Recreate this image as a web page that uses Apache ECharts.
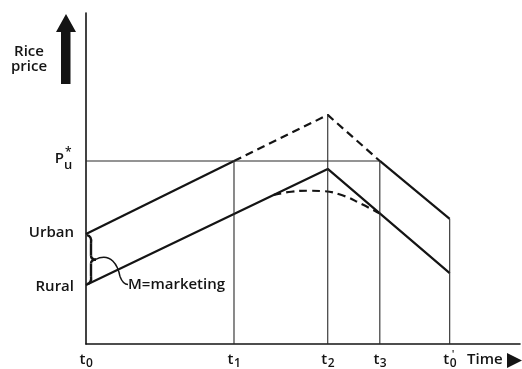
<!DOCTYPE html>
<html><head><meta charset="utf-8">
<script src="https://cdn.jsdelivr.net/npm/echarts@6/dist/echarts.min.js"></script>
<style>html,body{margin:0;padding:0;background:#fff}#c{width:522px;height:369px}</style>
</head><body><div id="c"></div>
<script>
// Time points (arbitrary units) and their tick labels
const tickLabels = ['t0', 't1', 't2', 't3', "t0'"];
const tickMain = ['t', 't', 't', 't', 't'];
const tickSub = ['0', '1', '2', '3', '0'];
const tickTimes = [0, 3.41, 5.57, 6.77, 8.38];
// Urban price path at t0, t1, t2, t3, t0'
const urbanPrices = [3.32, 5.53, 6.92, 5.53, 3.78];
// Rural price path at t0, t2, t0'
const ruralTimes = [0, 5.57, 8.38];
const ruralPrices = [1.78, 5.29, 2.14];
// Alternative (dashed) rural curve
const curveTimes = [4.32, 4.73, 5.13, 5.43, 5.89, 6.36, 6.77];
const curvePrices = [4.50, 4.60, 4.63, 4.62, 4.50, 4.22, 3.94];
const pUStar = 5.53;

const ink = '#141414';
const font = '"Open Sans", "DejaVu Sans", sans-serif';
const pair = (xs, ys) => xs.map((x, i) => [x, ys[i]]);

const chart = echarts.init(document.getElementById('c'));
const lineS = (data, opts) => Object.assign({
  type: 'line', data, symbol: 'none', silent: true, animation: false,
  lineStyle: { color: ink, width: 2.2 }
}, opts || {});
const thin = { lineStyle: { color: '#2a2a2a', width: 1.1 } };

const series = [
  lineS([[tickTimes[0], urbanPrices[0]], [tickTimes[1], urbanPrices[1]]]),
  lineS([[tickTimes[1], urbanPrices[1]], [tickTimes[2], urbanPrices[2]], [tickTimes[3], urbanPrices[3]]],
    { lineStyle: { color: ink, width: 2.2, type: [8, 5] } }),
  lineS([[tickTimes[3], urbanPrices[3]], [tickTimes[4], urbanPrices[4]]]),
  lineS(pair(ruralTimes, ruralPrices)),
  lineS(pair(curveTimes, curvePrices), { smooth: true, lineStyle: { color: ink, width: 2.2, type: [8, 5] } }),
  lineS([[0, pUStar], [tickTimes[3], pUStar]], thin),
  lineS([[tickTimes[1], 0], [tickTimes[1], urbanPrices[1]]], thin),
  lineS([[tickTimes[2], 0], [tickTimes[2], urbanPrices[2]]], thin),
  lineS([[tickTimes[3], 0], [tickTimes[3], urbanPrices[3]]], thin),
  lineS([[tickTimes[4], 0], [tickTimes[4], urbanPrices[4]]], thin)
];

chart.setOption({
  animation: false,
  grid: { left: 86, right: 2, top: 13, bottom: 25 },
  xAxis: { type: 'value', min: 0, max: 10, axisLine: { lineStyle: { color: ink, width: 1.6 } },
    axisTick: { show: false }, axisLabel: { show: false }, splitLine: { show: false } },
  yAxis: { type: 'value', min: 0, max: 10, axisLine: { show: true, lineStyle: { color: ink, width: 1.6 } },
    axisTick: { show: false }, axisLabel: { show: false }, splitLine: { show: false } },
  series
});

const P = (x, y) => chart.convertToPixel({ gridIndex: 0 }, [x, y]);
const txt = (x, y, text, size, align, extra) => ({
  type: 'text', x, y, silent: true,
  style: Object.assign({ text, fill: ink, font: `600 ${size}px ${font}`, align: align || 'left', verticalAlign: 'middle' }, extra || {})
});
const curve = (x1, y1, cx, cy, x2, y2, w, cx2, cy2) => {
  const shape = { x1, y1, x2, y2, cpx1: cx, cpy1: cy };
  if (cx2 !== undefined) { shape.cpx2 = cx2; shape.cpy2 = cy2; }
  return { type: 'bezierCurve', silent: true, shape, style: { stroke: ink, lineWidth: w, fill: null } };
};
const seg = (x1, y1, x2, y2, w) => ({ type: 'line', silent: true, shape: { x1, y1, x2, y2 }, style: { stroke: ink, lineWidth: w } });

const g = [];
// tick labels
tickTimes.forEach((t, i) => {
  const p = P(t, 0);
  g.push(txt(p[0] - 0.5, 360, tickMain[i], 15, 'right'));
  g.push(txt(p[0] + 0, 364, tickSub[i], 12, 'left'));
  if (tickLabels[i].endsWith("'")) g.push(txt(p[0] + 2, 355, "'", 11, 'left'));
});
// Time label + arrow
g.push(txt(467, 360, 'Time', 15, 'left'));
g.push({ type: 'polygon', silent: true, shape: { points: [[507, 353], [522, 360.5], [507, 368]] }, style: { fill: ink } });
// Rice price label + arrow
g.push(txt(29, 52, 'Rice', 15, 'center'));
g.push(txt(29, 67, 'price', 15, 'center'));
g.push({ type: 'polygon', silent: true,
  shape: { points: [[66, 14], [76, 32], [70.5, 32], [70.5, 84], [61, 84], [61, 32], [56, 32]] },
  style: { fill: ink } });
// Urban / Rural / P_u*
const pu = P(0, urbanPrices[0]), pr = P(0, ruralPrices[0]), ps = P(0, pUStar);
g.push(txt(pu[0] - 12, pu[1] - 1, 'Urban', 15, 'right'));
g.push(txt(pr[0] - 12, pr[1] + 2, 'Rural', 15, 'right'));
g.push(txt(ps[0] - 22, ps[1] - 2, 'P', 15, 'right'));
g.push(txt(ps[0] - 22, ps[1] + 4, 'u', 13, 'left'));
g.push(txt(ps[0] - 21, ps[1] - 8, '*', 12, 'left'));
// brace between urban and rural start
const x0 = pu[0] + 1, yT = pu[1] + 1, yB = pr[1] - 1, yM = (yT + yB) / 2;
g.push(curve(x0, yT, x0 + 5, yT + 1, x0 + 4, yT + 8, 2.4));
g.push(seg(x0 + 4, yT + 8, x0 + 4, yM - 4, 2.4));
g.push(curve(x0 + 4, yM - 4, x0 + 4, yM, x0 + 9, yM, 2.4));
g.push(curve(x0 + 9, yM, x0 + 4, yM, x0 + 4, yM + 4, 2.4));
g.push(seg(x0 + 4, yM + 4, x0 + 4, yB - 8, 2.4));
g.push(curve(x0 + 4, yB - 8, x0 + 5, yB - 1, x0, yB, 2.4));
// leader to label
g.push(curve(x0 + 8, yM + 0, x0 + 24, yM - 8, x0 + 33, yM + 17, 1.5, x0 + 31, yM + 6));
g.push(curve(x0 + 33, yM + 17, x0 + 36, yM + 25, x0 + 41, yM + 25, 1.5));
g.push(txt(x0 + 41, yM + 25, 'M=marketing', 15, 'left'));

chart.setOption({ graphic: g });
</script>
</body></html>
